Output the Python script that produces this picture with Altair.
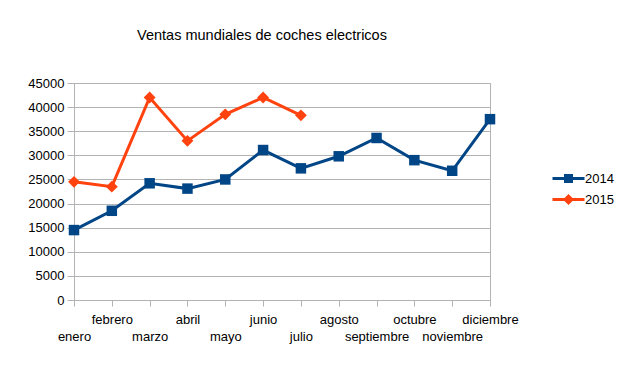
import json
import altair as alt
import pandas as pd

# ---- data ----
months = ["enero", "febrero", "marzo", "abril", "mayo", "junio", "julio",
          "agosto", "septiembre", "octubre", "noviembre", "diciembre"]
sales_2014 = [14500, 18500, 24200, 23100, 25000, 31100, 27300,
              29800, 33600, 29000, 26800, 37500]
sales_2015 = [24500, 23500, 42000, 33000, 38500, 42000, 38300]
series = ["2014", "2015"]
colors = ["#004586", "#ff420e"]
y_ticks = [0, 5000, 10000, 15000, 20000, 25000, 30000, 35000, 40000, 45000]
title_text = "Ventas mundiales de coches electricos"

rows = []
for m, v in zip(months, sales_2014):
    rows.append({"mes": m, "serie": "2014", "ventas": v})
for m, v in zip(months, sales_2015):
    rows.append({"mes": m, "serie": "2015", "ventas": v})
df = pd.DataFrame(rows)

FONT = "Liberation Sans"
GRAY = "#b3b3b3"
months_js = json.dumps(months)

# legend symbols: line segment + marker (custom SVG paths)
sq_path = "M-3.2,-0.3H3.2V0.3H-3.2Z M-0.9,-0.9H0.9V0.9H-0.9Z"
di_path = "M-3.2,-0.3H3.2V0.3H-3.2Z M0,-1.1L1.1,0L0,1.1L-1.1,0Z"

x_enc = alt.X(
    "mes:N", sort=months, scale=alt.Scale(padding=0),
    axis=alt.Axis(
        title=None, labelAngle=0, grid=False,
        labelExpr=f"indexof({months_js}, datum.value) % 2 == 0 ? ['', datum.label] : datum.label",
        labelBaseline="alphabetic", labelPadding=17, labelLineHeight=17,
        tickSize=6, labelOverlap=False, domainColor=GRAY, tickColor=GRAY,
        labelColor="black", labelFontSize=13, labelFont=FONT,
    ),
)
y_enc = alt.Y(
    "ventas:Q", scale=alt.Scale(domain=[0, 45000], nice=False),
    axis=alt.Axis(
        title=None, values=y_ticks, format="d", tickSize=7, labelPadding=3,
        gridColor=GRAY, domainColor=GRAY, tickColor=GRAY,
        labelColor="black", labelFontSize=13, labelFont=FONT,
    ),
)
color_scale = alt.Scale(domain=series, range=colors)

base = alt.Chart(df)

leg = alt.Legend(
    title=None, orient="none", legendX=488, legendY=89, padding=0,
    symbolSize=100, symbolStrokeWidth=0, labelOffset=10, rowPadding=7,
    labelFontSize=13, labelFont=FONT, labelColor="black",
)
legend_layer = base.transform_filter("false").mark_point(filled=True, opacity=1).encode(
    x=x_enc, y=y_enc,
    color=alt.Color("serie:N", scale=color_scale, legend=leg),
    shape=alt.Shape("serie:N", scale=alt.Scale(domain=series, range=[sq_path, di_path]), legend=leg),
)

lines = base.mark_line(strokeWidth=3).encode(
    x=x_enc, y=y_enc,
    color=alt.Color("serie:N", scale=color_scale, legend=None),
)
pts14 = base.transform_filter("datum.serie == '2014'").mark_point(
    shape="square", filled=True, size=110, opacity=1
).encode(x=x_enc, y=y_enc, color=alt.Color("serie:N", scale=color_scale, legend=None))
pts15 = base.transform_filter("datum.serie == '2015'").mark_point(
    shape="diamond", filled=True, size=140, opacity=1
).encode(x=x_enc, y=y_enc, color=alt.Color("serie:N", scale=color_scale, legend=None))

chart = alt.layer(legend_layer, lines, pts14, pts15).properties(
    width=416, height=217,
    title=alt.Title(
        title_text, fontSize=14.5, font=FONT, fontWeight="normal", color="black",
        anchor="middle", frame="group", dx=-20, offset=23, baseline="alphabetic",
    ),
    autosize=alt.AutoSizeParams(type="none"),
    padding={"left": 66, "top": 75, "right": 126, "bottom": 58},
    background="white",
).configure_view(stroke=GRAY)

chart.save("out.html", embed_options={"renderer": "svg", "actions": False})
